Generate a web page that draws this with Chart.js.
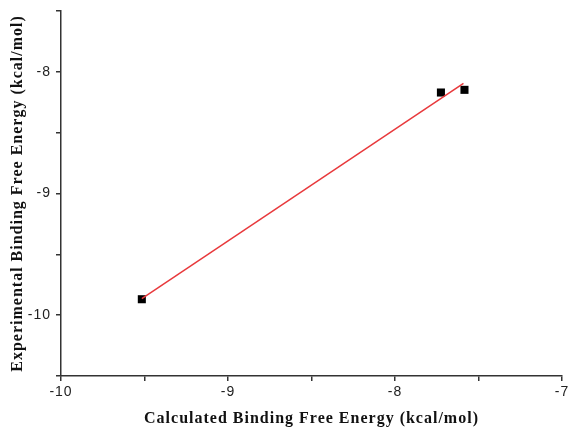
<!DOCTYPE html>
<html>
<head>
<meta charset="utf-8">
<script src="https://cdn.jsdelivr.net/npm/chart.js@4/dist/chart.umd.min.js"></script>
<style>
  html, body { margin: 0; padding: 0; background: #fff; }
  #wrap { width: 569px; height: 429px; }
</style>
</head>
<body>
<div id="wrap"><canvas id="c" width="569" height="429"></canvas></div>
<script>
// calculated vs experimental binding free energy (kcal/mol)
const calcX = [-9.516, -7.725, -7.584];
const expY  = [-9.869, -8.170, -8.148];

// fitted line end points
const fitX = [-9.516, -7.59];
const fitY = [-9.865, -8.095];

const xTitle = 'Calculated Binding Free Energy (kcal/mol)';
const yTitle = 'Experimental Binding Free Energy (kcal/mol)';

const axisColor = '#333';
const tickFont = { family: 'Liberation Sans, Arial, sans-serif', size: 14 };
const titleFont = { family: 'Liberation Serif, Times New Roman, serif', size: 16, weight: 'bold' };

const intLabel = (v) => Number.isInteger(v) ? String(v) : '';

// the original text is set a little loose
const spacing = {
  id: 'spacing',
  beforeDraw(chart) { chart.ctx.letterSpacing = '1px'; }
};

new Chart(document.getElementById('c'), {
  type: 'scatter',
  data: {
    datasets: [
      {
        label: 'fit',
        data: fitX.map((x, i) => ({ x, y: fitY[i] })),
        showLine: true,
        borderColor: '#e8393c',
        borderWidth: 1.5,
        pointRadius: 0
      },
      {
        label: 'data',
        data: calcX.map((x, i) => ({ x, y: expY[i] })),
        pointStyle: 'rect',
        pointRadius: 5.7,
        backgroundColor: '#000',
        borderColor: '#000',
        borderWidth: 0
      }
    ]
  },
  options: {
    responsive: false,
    animation: false,
    layout: { padding: { left: 0, top: 11, right: 7, bottom: 0 } },
    plugins: { legend: { display: false }, tooltip: { enabled: false } },
    scales: {
      x: {
        type: 'linear',
        min: -10, max: -7,
        afterFit: (s) => { s.height = 53; s.paddingLeft = 0; s.paddingRight = 0; },
        ticks: { stepSize: 0.5, autoSkip: false, maxRotation: 0, padding: 3, color: '#222', font: tickFont, callback: intLabel },
        grid: { drawOnChartArea: false, tickLength: 5, color: axisColor, lineWidth: 1.5 },
        border: { color: axisColor, width: 1.5 },
        title: { display: true, text: xTitle, color: '#111', font: titleFont, padding: { top: 0, bottom: 1 } }
      },
      y: {
        type: 'linear',
        min: -10.5, max: -7.5,
        afterFit: (s) => { s.width = 61; s.paddingTop = 0; s.paddingBottom = 0; },
        ticks: { stepSize: 0.5, autoSkip: false, padding: 5, color: '#222', font: tickFont, callback: intLabel },
        grid: { drawOnChartArea: false, tickLength: 5, color: axisColor, lineWidth: 1.5 },
        border: { color: axisColor, width: 1.5 },
        title: { display: true, text: yTitle, color: '#111', font: titleFont, padding: { top: 8, bottom: 0 } }
      }
    }
  },
  plugins: [spacing]
});
</script>
</body>
</html>
